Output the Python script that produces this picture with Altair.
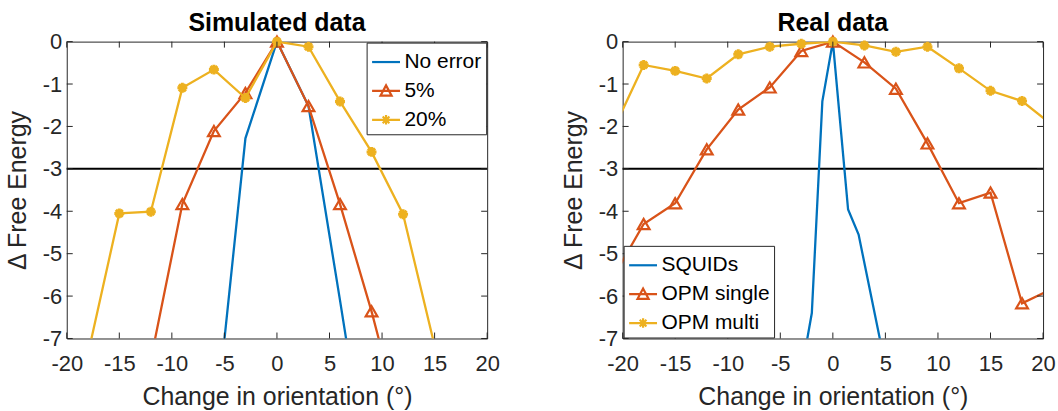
import altair as alt
import pandas as pd

# ---------------- data ----------------
# Simulated data panel
sim_noerr_x = [-6, -3, 0, 3, 6, 9]
sim_noerr_y = [-9.4, -2.28, 0, -1.52, -6.1, -10.8]
sim_5_x = [-12, -9, -6, -3, 0, 3, 6, 9, 12]
sim_5_y = [-7.5, -3.83, -2.11, -1.21, 0, -1.52, -3.83, -6.36, -9.2]
sim_20_x = [-18, -15, -12, -9, -6, -3, 0, 3, 6, 9, 12, 15]
sim_20_y = [-7.39, -4.05, -4.01, -1.09, -0.66, -1.33, 0, -0.12, -1.41, -2.6, -4.07, -7.17]

# Real data panel
real_squid_x = [-3, -2, -1, 0, 1.45, 2.45, 5]
real_squid_y = [-7.8, -6.4, -1.41, 0, -3.96, -4.55, -7.65]
real_opm_x = [-21, -18, -15, -12, -9, -6, -3, 0, 3, 6, 9, 12, 15, 18, 21]
real_single_y = [-5.6, -4.30, -3.81, -2.54, -1.60, -1.08, -0.22, 0, -0.49, -1.11,
                 -2.40, -3.81, -3.56, -6.17, -5.81]
real_multi_y = [-2.14, -0.55, -0.69, -0.87, -0.30, -0.12, -0.05, 0, -0.09, -0.24,
                -0.12, -0.63, -1.16, -1.40, -1.99]

threshold = [-3]
x_ticks = [-20, -15, -10, -5, 0, 5, 10, 15, 20]
y_ticks = [0, -1, -2, -3, -4, -5, -6, -7]
x_domain = [-20, 20]
y_domain = [-7, 0]

sim_names = ["No error", "5%", "20%"]
real_names = ["SQUIDs", "OPM single", "OPM multi"]

# ---------------- styling ----------------
BLUE, RED, YELLOW = "#0072BD", "#D95319", "#EDB120"
COLORS = [BLUE, RED, YELLOW]
FONT = "Liberation Sans"
AX = "#262626"
W, H = 422, 298
TICK = 6
LW = 2.3

ASTERISK = "M-1,0L1,0M0,-1L0,1M-0.7,-0.7L0.7,0.7M-0.7,0.7L0.7,-0.7"
# legend symbols: line with marker in the middle (unit = half of 28px)
LEG_LINE = "M-1,0L1,0"
LEG_TRI = "M-1,0L1,0M-0.4,0.34L0,-0.4L0.4,0.34Z"
LEG_AST = ("M-1,0L1,0M0,-0.34L0,0.34M-0.24,-0.24L0.24,0.24"
           "M-0.24,0.24L0.24,-0.24")
LEG_SHAPES = [LEG_LINE, LEG_TRI, LEG_AST]

x_enc = alt.X("x:Q", scale=alt.Scale(domain=x_domain, nice=False, zero=False),
              axis=alt.Axis(values=x_ticks, title="Change in orientation (°)",
                            labelExpr="'' + datum.value", labelFlush=False,
                            labelOverlap=False, labelPadding=15, titlePadding=10))
y_enc = alt.Y("y:Q", scale=alt.Scale(domain=y_domain, nice=False, zero=False),
              axis=alt.Axis(values=y_ticks, title="Δ Free Energy",
                            labelExpr="'' + datum.value", labelPadding=5,
                            labelOverlap=False, titlePadding=12))


def series_layers(xs, ys, color, marker):
    df = pd.DataFrame({"x": xs, "y": ys})
    base = alt.Chart(df)
    out = [base.mark_line(color=color, strokeWidth=LW, clip=True).encode(x=x_enc, y=y_enc)]
    if marker is not None:
        shape, size, sw = marker
        out.append(
            base.mark_point(shape=shape, size=size, filled=False, color=color,
                            strokeWidth=sw, opacity=1)
            .encode(x=x_enc, y=y_enc)
            .transform_filter(
                (alt.datum.y >= y_domain[0]) & (alt.datum.x >= x_domain[0])
                & (alt.datum.x <= x_domain[1]))
        )
    return out


def panel(title, series, names, orient):
    layers = []
    # threshold line
    layers.append(alt.Chart(pd.DataFrame({"y": threshold}))
                  .mark_rule(color="black", strokeWidth=2).encode(y=y_enc))
    for xs, ys, color, marker in series:
        layers += series_layers(xs, ys, color, marker)
    # inward ticks (MATLAB box style)
    xt = alt.Chart(pd.DataFrame({"x": x_ticks}))
    yt = alt.Chart(pd.DataFrame({"y": y_ticks}))
    layers.append(xt.mark_rule(color=AX, strokeWidth=1).encode(
        x=x_enc, y=alt.value(H), y2=alt.value(H - TICK)))
    layers.append(xt.mark_rule(color=AX, strokeWidth=1).encode(
        x=x_enc, y=alt.value(0), y2=alt.value(TICK)))
    layers.append(yt.mark_rule(color=AX, strokeWidth=1).encode(
        y=y_enc, x=alt.value(0), x2=alt.value(TICK)))
    layers.append(yt.mark_rule(color=AX, strokeWidth=1).encode(
        y=y_enc, x=alt.value(W - TICK), x2=alt.value(W)))
    # legend carrier (no marks drawn, legend comes from the scale domains)
    leg = alt.Legend(title=None, orient=orient, offset=1, labelFont=FONT,
                     labelFontSize=21, labelColor="black", symbolSize=784,
                     symbolStrokeWidth=2.2, strokeColor=AX, fillColor="white",
                     padding=4, labelOffset=3, rowPadding=3, cornerRadius=0,
                     labelLimit=300)
    layers.append(
        alt.Chart(pd.DataFrame({"s": names})).mark_point(filled=False, opacity=1)
        .encode(color=alt.Color("s:N", scale=alt.Scale(domain=names, range=COLORS), legend=leg),
                shape=alt.Shape("s:N", scale=alt.Scale(domain=names, range=LEG_SHAPES), legend=leg))
        .transform_filter("datum.s == '__none__'")
    )
    return alt.layer(*layers).properties(width=W, height=H, title=title)


tri = ("triangle-up", 140, 2.2)
ast = (ASTERISK, 100, 3)

left = panel("Simulated data", [
    (sim_noerr_x, sim_noerr_y, BLUE, None),
    (sim_5_x, sim_5_y, RED, tri),
    (sim_20_x, sim_20_y, YELLOW, ast),
], sim_names, "top-right")

right = panel("Real data", [
    (real_squid_x, real_squid_y, BLUE, None),
    (real_opm_x, real_single_y, RED, tri),
    (real_opm_x, real_multi_y, YELLOW, ast),
], real_names, "bottom-left")

chart = (
    alt.hconcat(left, right, spacing=60)
    .resolve_scale(color="independent", shape="independent")
    .resolve_legend(color="independent", shape="independent")
    .properties(padding={"left": 4, "top": 9, "right": 2, "bottom": 0})
    .configure_view(stroke=AX, strokeWidth=1)
    .configure_axis(labelFont=FONT, labelFontSize=22, labelColor=AX,
                    titleFont=FONT, titleFontSize=25, titleColor=AX,
                    titleFontWeight="normal", domain=False, ticks=False, grid=False)
    .configure_title(font=FONT, fontSize=25, fontWeight="bold", color="black",
                     offset=-5, anchor="middle")
)

chart.save("out.html", embed_options={"renderer": "svg", "actions": False})
